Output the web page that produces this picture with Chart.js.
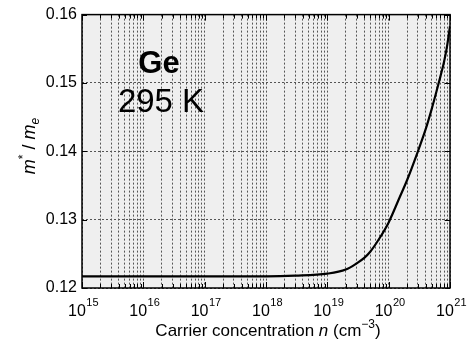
<!DOCTYPE html>
<html lang="en">
<head>
<meta charset="UTF-8">
<title>Ge effective mass</title>
<script src="https://cdn.jsdelivr.net/npm/chart.js"></script>
<style>
  html, body { margin: 0; padding: 0; background: #fff; }
  #wrap { width: 469px; height: 341px; }
</style>
</head>
<body>
<div id="wrap"><canvas id="massChart" width="469" height="341"></canvas></div>
<script>
// carrier concentration n (cm^-3) and m*/me
const concentration = [1e15, 1e16, 1e17, 1e18, 3e18, 1e19, 2e19, 3e19, 4e19, 5e19, 7e19, 1e20, 1.5e20, 2e20, 3e20, 4e20, 5e20, 6e20, 7e20, 8e20, 9e20, 1e21];
const massRatio = [0.1217, 0.1217, 0.1217, 0.1217, 0.1218, 0.1221, 0.1227, 0.1236, 0.1244, 0.1253, 0.1272, 0.1296, 0.1332, 0.1358, 0.1400, 0.1432, 0.1461, 0.1487, 0.1510, 0.1531, 0.1555, 0.1583];
const decadeExponents = [15, 16, 17, 18, 19, 20, 21];
const yTicks = [0.12, 0.13, 0.14, 0.15, 0.16];
const labelGe = 'Ge';
const labelTemp = '295 K';

const FONT = '"Liberation Sans", Arial, sans-serif';

function minorValues() {
    const out = [];
    for (let e = decadeExponents[0]; e < decadeExponents[decadeExponents.length - 1]; e++) {
        for (let m = 1; m < 10; m++) out.push(m * Math.pow(10, e));
    }
    out.push(Math.pow(10, decadeExponents[decadeExponents.length - 1]));
    return out;
}

function drawParts(c, parts, cx, y) {
    let total = 0;
    parts.forEach(p => { c.font = p.f; p.w = c.measureText(p.t).width; total += p.w; });
    let x = cx - total / 2;
    parts.forEach(p => { c.font = p.f; c.fillText(p.t, x, y + p.dy); x += p.w; });
}

const framePlugin = {
    id: 'frame',
    beforeDraw(chart) {
        const a = chart.chartArea, c = chart.ctx;
        c.save();
        c.fillStyle = '#efefef';
        c.fillRect(a.left, a.top, a.right - a.left, a.bottom - a.top);
        c.restore();
    },
    afterDraw(chart) {
        const a = chart.chartArea, c = chart.ctx;
        const xs = chart.scales.x, ys = chart.scales.y;
        c.save();
        // ticks pointing inward, all four sides
        c.strokeStyle = '#000';
        c.lineWidth = 1;
        c.beginPath();
        minorValues().forEach(v => {
            const px = Math.round(xs.getPixelForValue(v)) + 0.5;
            const len = decadeExponents.some(e => Math.abs(v - Math.pow(10, e)) < v * 1e-6) ? 6 : 4;
            c.moveTo(px, a.bottom); c.lineTo(px, a.bottom - len);
            c.moveTo(px, a.top); c.lineTo(px, a.top + len);
        });
        yTicks.forEach(v => {
            const py = Math.round(ys.getPixelForValue(v)) + 0.5;
            c.moveTo(a.left, py); c.lineTo(a.left + 5, py);
            c.moveTo(a.right, py); c.lineTo(a.right - 5, py);
        });
        c.stroke();
        // frame
        c.lineWidth = 1.5;
        c.strokeRect(a.left, a.top, a.right - a.left, a.bottom - a.top);

        // x tick labels 10^n
        c.fillStyle = '#000';
        c.textBaseline = 'alphabetic';
        c.textAlign = 'left';
        decadeExponents.forEach(e => {
            const px = xs.getPixelForValue(Math.pow(10, e));
            c.font = '16px ' + FONT;
            const wb = c.measureText('10').width;
            c.font = '11px ' + FONT;
            const we = c.measureText(String(e)).width;
            const x0 = px - (wb + we) / 2 + 1;
            c.font = '16px ' + FONT;
            c.fillText('10', x0, a.bottom + 28);
            c.font = '11px ' + FONT;
            c.fillText(String(e), x0 + wb + 0.5, a.bottom + 18);
        });

        // x axis title
        drawParts(c, [
            { t: 'Carrier concentration ', f: '17px ' + FONT, dy: 0 },
            { t: 'n', f: 'italic 17px ' + FONT, dy: 0 },
            { t: ' (cm', f: '17px ' + FONT, dy: 0 },
            { t: '\u22123', f: '12px ' + FONT, dy: -8 },
            { t: ')', f: '17px ' + FONT, dy: 0 }
        ], 268, 336);

        // y axis title m* / m_e
        c.translate(35, 146);
        c.rotate(-Math.PI / 2);
        drawParts(c, [
            { t: 'm', f: 'italic 18px ' + FONT, dy: 0 },
            { t: '*', f: '12px ' + FONT, dy: -8 },
            { t: ' / ', f: '18px ' + FONT, dy: 0 },
            { t: 'm', f: 'italic 18px ' + FONT, dy: 0 },
            { t: 'e', f: 'italic 12px ' + FONT, dy: 4 }
        ], 0, 0);
        c.restore();

        // annotation
        c.save();
        c.fillStyle = '#000';
        c.textAlign = 'center';
        c.font = 'bold 31px ' + FONT;
        c.fillText(labelGe, 159, 73);
        c.font = '33px ' + FONT;
        c.fillText(labelTemp, 161, 112);
        c.restore();
    }
};

new Chart(document.getElementById('massChart'), {
    type: 'line',
    data: {
        datasets: [{
            data: concentration.map((n, i) => ({ x: n, y: massRatio[i] })),
            borderColor: '#000',
            borderWidth: 2.2,
            pointRadius: 0,
            fill: false,
            cubicInterpolationMode: 'monotone'
        }]
    },
    options: {
        responsive: false,
        animation: false,
        events: [],
        layout: { padding: { left: 0, right: 19, top: 13, bottom: 0 } },
        plugins: { legend: { display: false }, tooltip: { enabled: false } },
        scales: {
            x: {
                type: 'logarithmic',
                min: 1e15,
                max: 1e21,
                afterBuildTicks(scale) {
                    scale.ticks = minorValues().map(v => ({ value: v }));
                },
                afterFit(scale) { scale.height = 53; },
                ticks: { display: false },
                grid: { color: '#555', lineWidth: 1, drawTicks: false },
                border: { display: false, dash: [2, 2] }
            },
            y: {
                min: 0.12,
                max: 0.16,
                afterBuildTicks(scale) {
                    scale.ticks = yTicks.map(v => ({ value: v }));
                },
                afterFit(scale) { scale.width = 82; },
                ticks: {
                    color: '#000',
                    font: { size: 16, family: FONT },
                    padding: 5,
                    callback: v => v.toFixed(2)
                },
                grid: { color: '#555', lineWidth: 1, drawTicks: false },
                border: { display: false, dash: [2, 2] }
            }
        }
    },
    plugins: [framePlugin]
});
</script>
</body>
</html>
